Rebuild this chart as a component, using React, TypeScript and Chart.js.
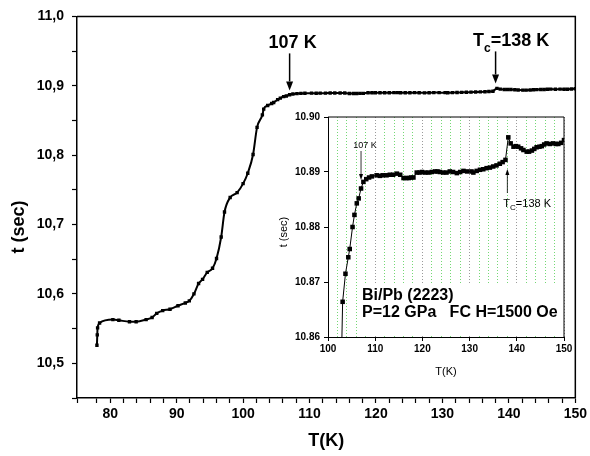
import React, { useEffect, useRef } from 'react';
import { Chart, registerables } from 'chart.js';
Chart.register(...registerables);

const FONT = '"Liberation Sans", Arial, Helvetica, sans-serif';

// Temperature T (K)
const tempK = [
  78.0, 78.05, 78.1, 78.4, 80.4, 81.3, 82.9, 83.9, 85.4, 86.3, 87.0, 87.9, 89.0, 90.2, 91.3, 91.9,
  92.6, 93.3, 93.9, 94.6, 95.4, 96.0, 96.7, 97.2, 98.05, 99.1, 100.0, 100.7, 101.5, 102.1, 102.9,
  103.1, 103.7, 104.3, 104.6, 105.2, 105.6, 106.1, 106.5, 107.0, 107.5, 108.1, 108.7, 109.3, 110.3,
  111.0, 111.6, 112.4, 113.1, 113.8, 114.6, 115.3, 116.0, 116.6, 117.1, 117.6, 118.1, 118.8, 119.4,
  119.9, 120.6, 121.3, 122.0, 122.7, 123.2, 123.7, 124.4, 125.1, 125.8, 126.5, 127.3, 128.0, 128.7,
  129.5, 130.4, 130.8, 131.5, 132.2, 132.9, 133.6, 134.3, 135.0, 135.7, 136.4, 137.0, 137.6, 138.2,
  138.7, 139.3, 139.8, 140.3, 140.9, 141.4, 142.1, 142.6, 143.2, 143.7, 144.2, 144.8, 145.3, 145.8,
  146.3, 147.0, 147.7, 148.3, 148.8, 149.4, 150.0,
];

// Time t (sec)
const timeSec = [
  10.526, 10.541, 10.551, 10.558, 10.563, 10.562, 10.56, 10.56, 10.563, 10.566, 10.572, 10.576, 10.578,
  10.583, 10.587, 10.59, 10.6, 10.615, 10.621, 10.631, 10.637, 10.651, 10.682, 10.718, 10.739, 10.746,
  10.759, 10.774, 10.801, 10.84, 10.858,
  10.8664, 10.8715, 10.8745, 10.876, 10.88, 10.8822, 10.8843, 10.8852, 10.887, 10.8882, 10.8887, 10.889,
  10.8892, 10.8894, 10.8893, 10.8894, 10.8894, 10.8895, 10.8895, 10.8897, 10.8895, 10.8889, 10.8889,
  10.8889, 10.889, 10.889, 10.8899, 10.8899, 10.89, 10.8899, 10.8899, 10.89, 10.8901, 10.8901, 10.89,
  10.8899, 10.8899, 10.8901, 10.89, 10.8898, 10.89, 10.8902, 10.8901, 10.8901, 10.8899, 10.8902, 10.8904,
  10.8905, 10.8907, 10.8908, 10.891, 10.8912, 10.8915, 10.8918, 10.8922, 10.8963, 10.8952, 10.8946,
  10.8947, 10.8946, 10.8943, 10.894, 10.8937, 10.8937, 10.8939, 10.8942, 10.8945, 10.8946, 10.8947,
  10.895, 10.8952, 10.8951, 10.8952, 10.8951, 10.8951, 10.8953, 10.8958,
];

const mainXRange = [75, 150];
const mainYRange = [10.45, 11.0];
const insetXRange = [100, 150];
const insetYRange = [10.86, 10.9];

const onsetK = 107;
const tcK = 138;

const sampleLabel = 'Bi/Pb (2223)';
const conditionLabel = 'P=12 GPa   FC H=1500 Oe';

function points() {
  return tempK.map((t, i) => ({ x: t, y: timeSec[i] }));
}

function arrow(ctx: CanvasRenderingContext2D, x: number, yFrom: number, yTo: number, headLen: number, headW: number, lw: number) {
  ctx.save();
  ctx.strokeStyle = '#000';
  ctx.fillStyle = '#000';
  ctx.lineWidth = lw;
  const dir = yTo > yFrom ? 1 : -1;
  ctx.beginPath();
  ctx.moveTo(x, yFrom);
  ctx.lineTo(x, yTo - dir * headLen);
  ctx.stroke();
  ctx.beginPath();
  ctx.moveTo(x, yTo);
  ctx.lineTo(x - headW / 2, yTo - dir * headLen);
  ctx.lineTo(x + headW / 2, yTo - dir * headLen);
  ctx.closePath();
  ctx.fill();
  ctx.restore();
}

const isMult = (v: number, m: number) => Math.abs(v / m - Math.round(v / m)) < 1e-6;

export default function App() {
  const mainRef = useRef<HTMLCanvasElement>(null);
  const insetRef = useRef<HTMLCanvasElement>(null);

  useEffect(() => {
    const mainPlugin = {
      id: 'mainDecor',
      afterDraw(chart: any) {
        const { ctx, chartArea: a, scales } = chart;
        const xs = scales.x;
        const ys = scales.y;
        ctx.save();
        // box top & right
        ctx.strokeStyle = '#000';
        ctx.lineWidth = 1.5;
        ctx.beginPath();
        ctx.moveTo(a.left, a.top);
        ctx.lineTo(a.right, a.top);
        ctx.lineTo(a.right, a.bottom);
        ctx.stroke();
        // y title
        ctx.fillStyle = '#000';
        ctx.font = `bold 18px ${FONT}`;
        ctx.textAlign = 'center';
        ctx.textBaseline = 'middle';
        ctx.save();
        ctx.translate(19, 227);
        ctx.rotate(-Math.PI / 2);
        ctx.fillText('t (sec)', 0, 0);
        ctx.restore();
        // x title
        ctx.fillText('T(K)', (a.left + a.right) / 2, 441);
        // 107 K
        const x107 = xs.getPixelForValue(onsetK);
        ctx.textBaseline = 'alphabetic';
        ctx.fillText('107 K', x107 + 3, a.top + 32);
        arrow(ctx, x107, a.top + 37, a.top + 74, 9, 7, 1.5);
        // Tc = 138 K
        const x138 = xs.getPixelForValue(tcK);
        ctx.textAlign = 'left';
        let tx = 473;
        ctx.font = `bold 18px ${FONT}`;
        ctx.fillText('T', tx, a.top + 30);
        tx += ctx.measureText('T').width;
        ctx.font = `bold 12px ${FONT}`;
        ctx.fillText('c', tx, a.top + 36);
        tx += ctx.measureText('c').width;
        ctx.font = `bold 18px ${FONT}`;
        ctx.fillText('=138 K', tx, a.top + 30);
        arrow(ctx, x138, a.top + 35, a.top + 67, 9, 7, 1.5);
        ctx.restore();
      },
    };

    const main = new Chart(mainRef.current!, {
      type: 'line',
      data: {
        datasets: [
          {
            data: points(),
            borderColor: '#000',
            backgroundColor: '#000',
            borderWidth: 2,
            pointStyle: 'rect',
            pointRadius: 2.4,
            pointBorderWidth: 0,
            cubicInterpolationMode: 'monotone',
            fill: false,
          },
        ],
      },
      options: {
        animation: false,
        responsive: false,
        maintainAspectRatio: false,
        layout: { padding: { left: 0, top: 16, right: 12, bottom: 0 } },
        plugins: { legend: { display: false }, tooltip: { enabled: false } },
        scales: {
          x: {
            type: 'linear',
            min: mainXRange[0],
            max: mainXRange[1],
            ticks: {
              stepSize: 2,
              autoSkip: false,
              maxRotation: 0,
              padding: 3,
              color: '#000',
              font: { family: FONT, size: 14, weight: 'bold' },
              callback: (v: any) => (isMult(v, 10) ? String(v) : ''),
            },
            grid: { drawOnChartArea: false, drawTicks: true, tickLength: 5, tickColor: '#000', tickWidth: 1.2 },
            border: { color: '#000', width: 1.5 },
            afterFit: (s: any) => {
              s.height = 58;
            },
          },
          y: {
            type: 'linear',
            min: mainYRange[0],
            max: mainYRange[1],
            ticks: {
              stepSize: 0.05,
              autoSkip: false,
              padding: 8,
              color: '#000',
              font: { family: FONT, size: 14, weight: 'bold' },
              callback: (v: any) => (isMult(v, 0.1) ? Number(v).toFixed(1).replace('.', ',') : ''),
            },
            grid: { drawOnChartArea: false, drawTicks: true, tickLength: 5, tickColor: '#000', tickWidth: 1.2 },
            border: { color: '#000', width: 1.5 },
            afterFit: (s: any) => {
              s.width = 77;
            },
          },
        },
      },
      plugins: [mainPlugin],
    } as any);

    const insetBg = {
      id: 'insetBg',
      beforeDatasetsDraw(chart: any) {
        const { ctx, chartArea: a } = chart;
        ctx.save();
        ctx.fillStyle = '#fff';
        ctx.fillRect(a.left + 33, a.bottom - 54, a.right - a.left - 35, 53);
        ctx.restore();
      },
      afterDraw(chart: any) {
        const { ctx, chartArea: a, scales } = chart;
        const xs = scales.x;
        ctx.save();
        ctx.strokeStyle = '#000';
        ctx.lineWidth = 1;
        ctx.beginPath();
        ctx.moveTo(a.left, a.top);
        ctx.lineTo(a.right, a.top);
        ctx.lineTo(a.right, a.bottom);
        ctx.stroke();
        ctx.fillStyle = '#000';
        // titles
        ctx.font = `11px ${FONT}`;
        ctx.textAlign = 'center';
        ctx.textBaseline = 'middle';
        ctx.fillText('T(K)', (a.left + a.right) / 2, 272);
        ctx.save();
        ctx.translate(14, 132);
        ctx.rotate(-Math.PI / 2);
        ctx.fillText('t (sec)', 0, 0);
        ctx.restore();
        // sample text
        ctx.textAlign = 'left';
        ctx.textBaseline = 'alphabetic';
        ctx.font = `bold 16px ${FONT}`;
        ctx.fillText(sampleLabel, a.left + 34, a.bottom - 37);
        ctx.fillText(conditionLabel, a.left + 34, a.bottom - 20);
        // 107 K
        const x107 = xs.getPixelForValue(onsetK);
        ctx.font = `9px ${FONT}`;
        ctx.textAlign = 'center';
        ctx.fillText('107 K', x107 + 4, a.top + 31);
        arrow(ctx, x107, a.top + 34, a.top + 63, 6, 4, 0.8);
        // Tc
        const x138 = xs.getPixelForValue(tcK);
        ctx.textAlign = 'left';
        let tx = x138 - 4;
        ctx.font = `11px ${FONT}`;
        ctx.fillText('T', tx, a.top + 90);
        tx += ctx.measureText('T').width;
        ctx.font = `8px ${FONT}`;
        ctx.fillText('C', tx, a.top + 93);
        tx += ctx.measureText('C').width;
        ctx.font = `11px ${FONT}`;
        ctx.fillText('=138 K', tx, a.top + 90);
        arrow(ctx, x138, a.top + 76, a.top + 52, 6, 4, 0.8);
        ctx.restore();
      },
    };

    const inset = new Chart(insetRef.current!, {
      type: 'line',
      data: {
        datasets: [
          {
            data: points(),
            borderColor: '#000',
            backgroundColor: '#000',
            borderWidth: 1,
            pointStyle: 'rect',
            pointRadius: 3.2,
            pointBorderWidth: 0,
            tension: 0,
            fill: false,
          },
        ],
      },
      options: {
        animation: false,
        responsive: false,
        maintainAspectRatio: false,
        layout: { padding: { left: 0, top: 17, right: 11, bottom: 0 } },
        plugins: { legend: { display: false }, tooltip: { enabled: false } },
        scales: {
          x: {
            type: 'linear',
            min: insetXRange[0],
            max: insetXRange[1],
            ticks: {
              stepSize: 2,
              autoSkip: false,
              maxRotation: 0,
              padding: 2,
              color: '#000',
              font: { family: FONT, size: 10, weight: 'bold' },
              callback: (v: any) => (isMult(v, 10) ? String(v) : ''),
            },
            grid: {
              drawOnChartArea: true,
              drawTicks: true,
              tickLength: 4,
              lineWidth: 1,
              color: (c: any) => (c.tick && isMult(c.tick.value, 10) ? '#9a9a9a' : '#74d874'),
              tickColor: (c: any) => (c.tick && isMult(c.tick.value, 10) ? '#000' : 'rgba(0,0,0,0)'),
            },
            border: { color: '#000', width: 1, dash: [1, 2] },
            afterFit: (s: any) => {
              s.height = 48;
            },
          },
          y: {
            type: 'linear',
            min: insetYRange[0],
            max: insetYRange[1],
            ticks: {
              stepSize: 0.01,
              autoSkip: false,
              padding: 4,
              color: '#000',
              font: { family: FONT, size: 10, weight: 'bold' },
              callback: (v: any) => Number(v).toFixed(2),
            },
            grid: { drawOnChartArea: false, drawTicks: true, tickLength: 4, tickColor: '#000' },
            border: { color: '#000', width: 1 },
            afterFit: (s: any) => {
              s.width = 58;
            },
          },
        },
      },
      plugins: [insetBg],
    } as any);

    return () => {
      main.destroy();
      inset.destroy();
    };
  }, []);

  return (
    <div style={{ position: 'fixed', left: 0, top: 0, width: 590, height: 456, background: '#fff', overflow: 'hidden' }}>
      <canvas ref={mainRef} width={590} height={456} style={{ position: 'absolute', left: 0, top: 0, width: 590, height: 456 }} />
      <canvas ref={insetRef} width={305} height={285} style={{ position: 'absolute', left: 270, top: 100, width: 305, height: 285 }} />
    </div>
  );
}
